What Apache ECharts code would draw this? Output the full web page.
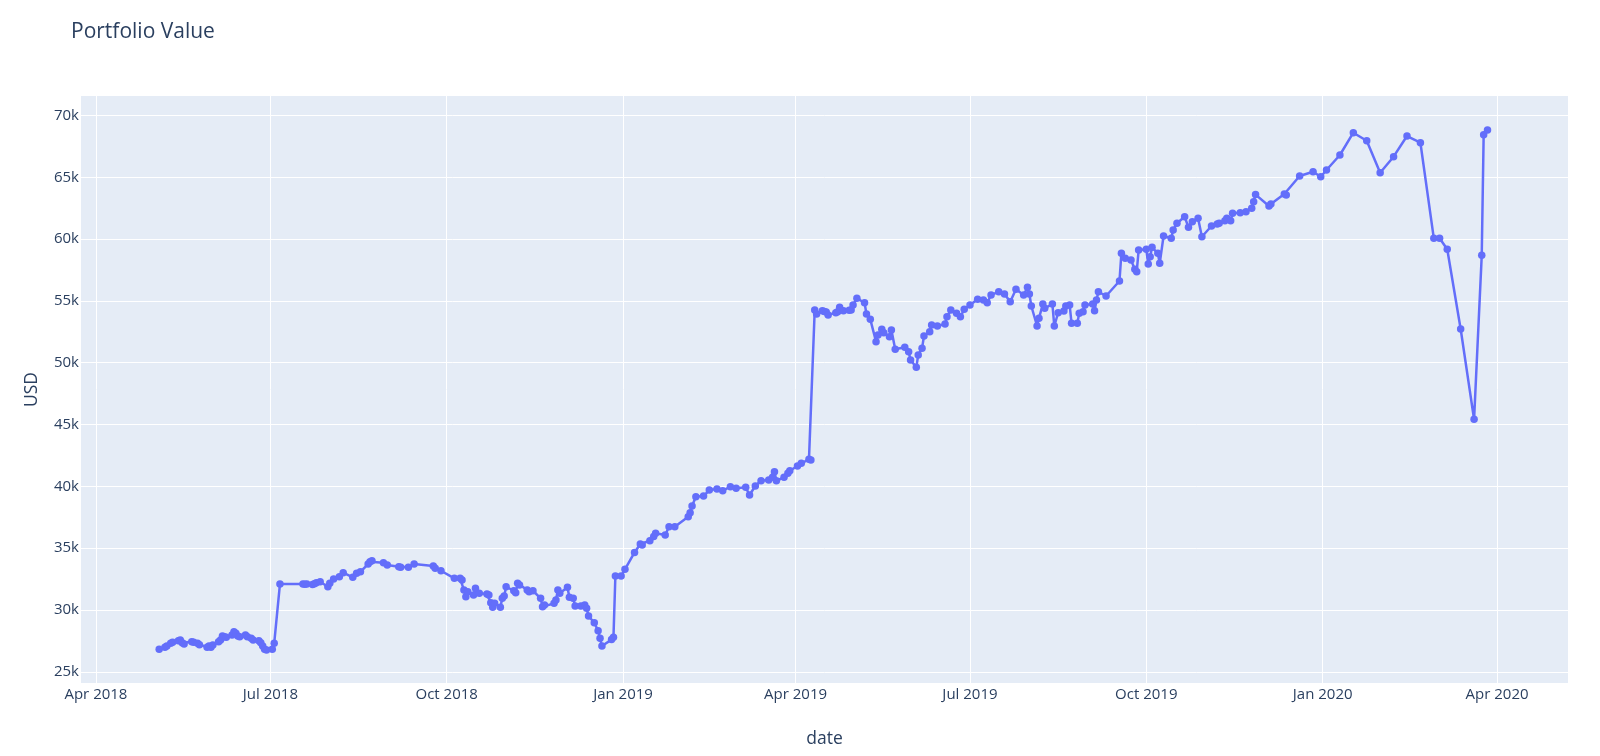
<!DOCTYPE html>
<html>
<head>
<meta charset="utf-8">
<script src="https://cdn.jsdelivr.net/npm/echarts@6/dist/echarts.min.js"></script>
<style>
  html, body { margin: 0; padding: 0; background: #ffffff; }
  #chart { width: 1600px; height: 756px; }
</style>
</head>
<body>
<div id="chart"></div>
<script>
// ---------- data ----------
const dates = [
  '2018-05-04','2018-05-07','2018-05-08','2018-05-10','2018-05-11','2018-05-14','2018-05-15','2018-05-16','2018-05-17','2018-05-21',
  '2018-05-22','2018-05-24','2018-05-25','2018-05-29','2018-05-30','2018-05-31','2018-06-01','2018-06-04','2018-06-05','2018-06-06',
  '2018-06-07','2018-06-08','2018-06-11','2018-06-12','2018-06-13','2018-06-14','2018-06-15','2018-06-18','2018-06-19','2018-06-21',
  '2018-06-22','2018-06-25','2018-06-26','2018-06-27','2018-06-28','2018-06-29','2018-07-02','2018-07-03','2018-07-06','2018-07-18',
  '2018-07-19','2018-07-20','2018-07-23','2018-07-24','2018-07-25','2018-07-27','2018-07-31','2018-08-01','2018-08-03','2018-08-06',
  '2018-08-08','2018-08-13','2018-08-15','2018-08-17','2018-08-21','2018-08-22','2018-08-23','2018-08-29','2018-08-31','2018-09-06',
  '2018-09-07','2018-09-11','2018-09-14','2018-09-24','2018-09-25','2018-09-28','2018-10-05','2018-10-08','2018-10-09','2018-10-10',
  '2018-10-11','2018-10-12','2018-10-15','2018-10-16','2018-10-18','2018-10-22','2018-10-23','2018-10-24','2018-10-25','2018-10-26',
  '2018-10-29','2018-10-30','2018-10-31','2018-11-01','2018-11-05','2018-11-06','2018-11-07','2018-11-08','2018-11-12','2018-11-13',
  '2018-11-15','2018-11-19','2018-11-20','2018-11-21','2018-11-26','2018-11-27','2018-11-28','2018-11-29','2018-12-03','2018-12-04',
  '2018-12-06','2018-12-07','2018-12-10','2018-12-12','2018-12-13','2018-12-14','2018-12-17','2018-12-19','2018-12-20','2018-12-21',
  '2018-12-26','2018-12-27','2018-12-28','2018-12-31',
  '2019-01-02','2019-01-07','2019-01-10','2019-01-11','2019-01-15','2019-01-17','2019-01-18','2019-01-23','2019-01-25','2019-01-28',
  '2019-02-04','2019-02-05','2019-02-06','2019-02-08','2019-02-12','2019-02-15','2019-02-19','2019-02-22','2019-02-26','2019-03-01',
  '2019-03-06','2019-03-08','2019-03-11','2019-03-14','2019-03-18','2019-03-20','2019-03-21','2019-03-22','2019-03-26','2019-03-28',
  '2019-03-29','2019-04-02','2019-04-04','2019-04-08','2019-04-09','2019-04-11','2019-04-12','2019-04-15','2019-04-16','2019-04-17',
  '2019-04-18','2019-04-22','2019-04-23','2019-04-24','2019-04-26','2019-04-29','2019-04-30','2019-05-01','2019-05-03','2019-05-07',
  '2019-05-08','2019-05-10','2019-05-13','2019-05-14','2019-05-16','2019-05-17','2019-05-20','2019-05-21','2019-05-23','2019-05-28',
  '2019-05-30','2019-05-31','2019-06-03','2019-06-04','2019-06-06','2019-06-07','2019-06-10','2019-06-11','2019-06-14','2019-06-18',
  '2019-06-19','2019-06-21','2019-06-24','2019-06-26','2019-06-28','2019-07-01','2019-07-05','2019-07-08','2019-07-10','2019-07-12',
  '2019-07-16','2019-07-19','2019-07-22','2019-07-25','2019-07-29','2019-07-31','2019-08-01','2019-08-02','2019-08-05','2019-08-06',
  '2019-08-08','2019-08-09','2019-08-13','2019-08-14','2019-08-16','2019-08-19','2019-08-20','2019-08-22','2019-08-23','2019-08-26',
  '2019-08-27','2019-08-29','2019-08-30','2019-09-03','2019-09-04','2019-09-05','2019-09-06','2019-09-10','2019-09-17','2019-09-18',
  '2019-09-20','2019-09-23','2019-09-25','2019-09-26','2019-09-27','2019-10-01','2019-10-02','2019-10-03','2019-10-04','2019-10-07',
  '2019-10-08','2019-10-10','2019-10-14','2019-10-15','2019-10-17','2019-10-21','2019-10-23','2019-10-25','2019-10-28','2019-10-30',
  '2019-11-04','2019-11-07','2019-11-08','2019-11-11','2019-11-12','2019-11-14','2019-11-15','2019-11-19','2019-11-22','2019-11-25',
  '2019-11-26','2019-11-27','2019-12-04','2019-12-05','2019-12-12','2019-12-13','2019-12-20','2019-12-27','2019-12-31',
  '2020-01-03','2020-01-10','2020-01-17','2020-01-24','2020-01-31','2020-02-07','2020-02-14','2020-02-21','2020-02-28','2020-03-02',
  '2020-03-06','2020-03-13','2020-03-20','2020-03-24','2020-03-25','2020-03-27'
];
const portfolioValues = [
  26812,26974,27079,27297,27378,27508,27565,27346,27241,27427,
  27378,27297,27184,26974,27079,26974,27160,27427,27565,27888,
  27831,27783,27969,28236,28107,27888,27831,27969,27831,27700,
  27565,27508,27346,27079,26812,26756,26812,27297,32095,32095,
  32080,32095,32060,32110,32200,32281,31877,32151,32500,32686,
  33009,32637,32960,33090,33713,33900,33980,33818,33632,33495,
  33446,33446,33713,33551,33365,33171,32556,32556,32418,31609,
  31067,31472,31205,31747,31343,31286,31205,30582,30210,30534,
  30210,30938,31124,31877,31553,31391,32151,32014,31609,31472,
  31553,30938,30259,30396,30534,30800,31609,31343,31828,31019,
  30938,30315,30315,30396,30129,29506,28966,28318,27700,27079,
  27600,27783,32742,32742,
  33284,34650,35331,35250,35598,35950,36200,36059,36731,36731,
  37540,37864,38405,39158,39214,39700,39781,39643,39967,39837,
  39918,39295,40023,40452,40509,40727,41180,40452,40727,41051,
  41261,41641,41860,42183,42127,54262,53938,54205,54150,54100,
  53857,54050,54124,54480,54205,54250,54262,54666,55208,54852,
  53938,53509,51697,52239,52700,52425,52102,52643,51082,51244,
  50888,50217,49626,50622,51163,52158,52506,53048,52967,53129,
  53720,54262,53995,53720,54318,54666,55127,55070,54852,55475,
  55742,55556,54933,55936,55475,56098,55556,54585,52967,53590,
  54747,54399,54747,52967,54043,54180,54585,54666,53186,53186,
  53995,54124,54666,54747,54205,55070,55742,55394,56607,58848,
  58444,58306,57554,57360,59115,59172,57983,58574,59334,58848,
  58039,60248,60062,60734,61276,61810,60952,61406,61681,60192,
  61057,61220,61276,61486,61681,61486,62084,62130,62214,62490,
  63023,63600,62675,62837,63646,63565,65103,65451,65046,
  65588,66803,68606,67959,65370,66666,68338,67797,60062,60062,
  59172,52725,45419,58687,68444,68824
];
const xTickDates = ['2018-04-01','2018-07-01','2018-10-01','2019-01-01','2019-04-01','2019-07-01','2019-10-01','2020-01-01','2020-04-01'];
const yTickValues = [25000,30000,35000,40000,45000,50000,55000,60000,65000,70000];
const monthNames = ['Jan','Feb','Mar','Apr','May','Jun','Jul','Aug','Sep','Oct','Nov','Dec'];

// ---------- helpers ----------
function toUTC(s) {
  const p = s.split('-').map(Number);
  return Date.UTC(p[0], p[1] - 1, p[2]);
}
const seriesData = dates.map((d, i) => [toUTC(d), portfolioValues[i]]);
const xTicks = xTickDates.map(toUTC);

const textColor = '#2a3f5f';
const fontFamily = '"Open Sans", verdana, arial, sans-serif';

const chart = echarts.init(document.getElementById('chart'), null, { renderer: 'canvas' });
chart.setOption({
  backgroundColor: '#ffffff',
  animation: false,
  textStyle: { fontFamily: fontFamily },
  title: {
    text: 'Portfolio Value',
    left: 66,
    top: 17,
    textStyle: { color: textColor, fontSize: 21, fontWeight: 'normal', fontFamily: fontFamily }
  },
  grid: {
    left: 81, right: 32, top: 96, bottom: 73,
    show: true, backgroundColor: '#E5ECF6', borderWidth: 0,
    containLabel: false
  },
  xAxis: {
    type: 'value',
    min: toUTC('2018-03-24') + 5 * 3600000,
    max: toUTC('2020-05-08'),
    name: 'date',
    nameLocation: 'middle',
    nameGap: 47,
    nameTextStyle: { color: textColor, fontSize: 17.5, fontFamily: fontFamily },
    axisLine: { show: false },
    axisTick: { show: false, customValues: xTicks },
    axisLabel: {
      customValues: xTicks,
      color: textColor, fontSize: 15, margin: 4, fontFamily: fontFamily,
      formatter: function (v) {
        const d = new Date(v);
        return monthNames[d.getUTCMonth()] + ' ' + d.getUTCFullYear();
      }
    },
    splitLine: { show: true, lineStyle: { color: '#ffffff', width: 1 } }
  },
  yAxis: {
    type: 'value',
    min: 24090,
    max: 71575,
    name: 'USD',
    nameLocation: 'middle',
    nameGap: 40,
    nameRotate: 90,
    nameTextStyle: { color: textColor, fontSize: 17.5, fontFamily: fontFamily },
    axisLine: { show: false },
    axisTick: { show: false, customValues: yTickValues },
    axisLabel: {
      customValues: yTickValues,
      color: textColor, fontSize: 15, margin: 2, fontFamily: fontFamily,
      formatter: function (v) { return (v / 1000) + 'k'; }
    },
    splitLine: { show: true, lineStyle: { color: '#ffffff', width: 1 } }
  },
  series: [{
    type: 'line',
    data: seriesData,
    showAllSymbol: true,
    symbol: 'circle',
    symbolSize: 7.5,
    lineStyle: { color: '#636efa', width: 2.5 },
    itemStyle: { color: '#636efa', borderWidth: 0 },
    emphasis: { disabled: true }
  }]
});
</script>
</body>
</html>
